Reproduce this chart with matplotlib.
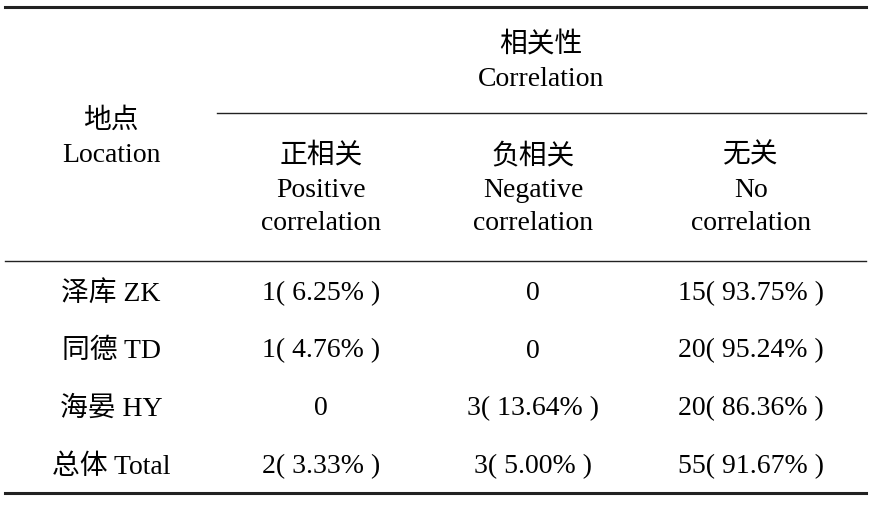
import matplotlib
matplotlib.use("Agg")
import matplotlib.pyplot as plt

plt.rcParams["font.family"] = ["Liberation Serif", "Noto Sans CJK SC"]

group_header = ["相关性", "Correlation"]
row_header = ["地点", "Location"]
col_headers = [
    ["正相关", "Positive", "correlation"],
    ["负相关", "Negative", "correlation"],
    ["无关", "No", "correlation"],
]
locations = ["泽库 ZK", "同德 TD", "海晏 HY", "总体 Total"]
positive = ["1( 6.25% )", "1( 4.76% )", "0", "2( 3.33% )"]
negative = ["0", "0", "3( 13.64% )", "3( 5.00% )"]
no_corr = ["15( 93.75% )", "20( 95.24% )", "20( 86.36% )", "55( 91.67% )"]

W, H = 871, 506
fig = plt.figure(figsize=(W / 100, H / 100), dpi=100)
ax = fig.add_axes([0, 0, 1, 1])
ax.set_xlim(0, W)
ax.set_ylim(H, 0)
ax.axis("off")

fs = 20
col_x = [111, 321, 533, 751]
line_h = 34

# rules
ax.plot([5, 866], [8, 8], color="#222222", lw=2.2)
ax.plot([217, 866], [114, 114], color="#222222", lw=1.0)
ax.plot([5, 866], [262, 262], color="#222222", lw=1.0)
ax.plot([5, 866], [494, 494], color="#222222", lw=2.2)

# headers
for i, t in enumerate(group_header):
    ax.text(541, 45 + i * line_h, t, ha="center", va="center", fontsize=fs)
for i, t in enumerate(row_header):
    ax.text(col_x[0], 121 + i * line_h, t, ha="center", va="center", fontsize=fs)
for j, lines in enumerate(col_headers):
    for i, t in enumerate(lines):
        ax.text(col_x[j + 1], 156 + i * line_h, t, ha="center", va="center", fontsize=fs)

# body
row_y = [294, 351, 409, 467]
for r, y in enumerate(row_y):
    cells = [locations[r], positive[r], negative[r], no_corr[r]]
    for c, t in enumerate(cells):
        ax.text(col_x[c], y, t, ha="center", va="center", fontsize=fs)

fig.savefig("out.png", dpi=100, facecolor="white")
